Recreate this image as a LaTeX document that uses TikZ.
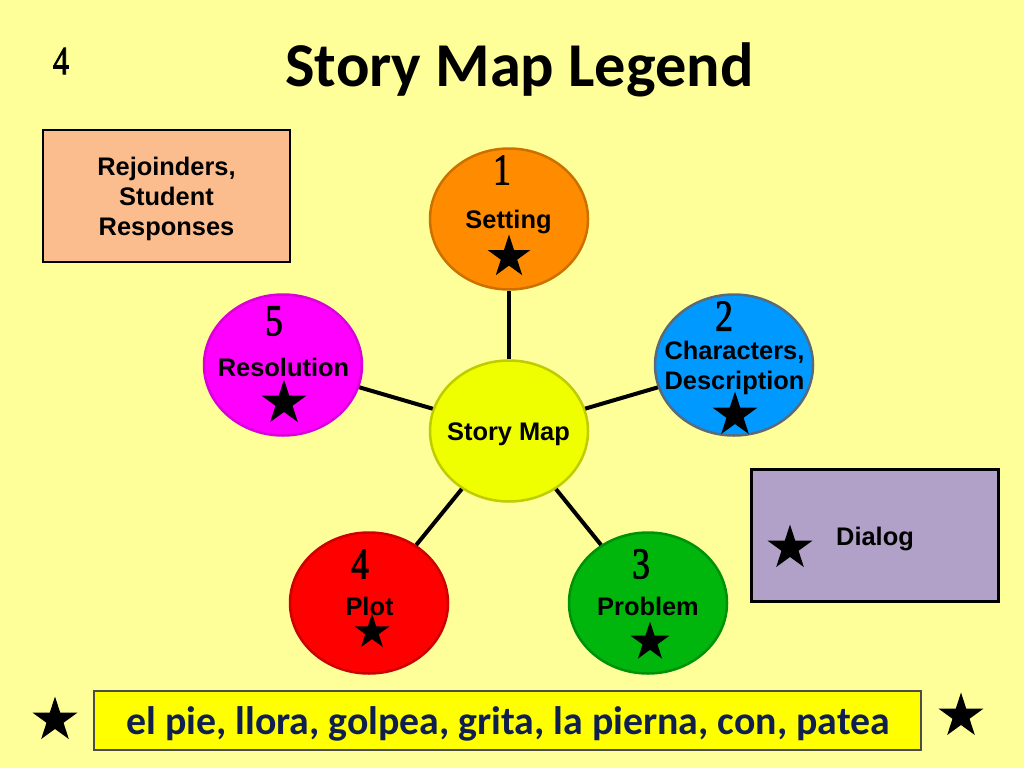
\documentclass[tikz,border=0pt]{standalone}
\usepackage{fontspec}
\usepackage{xcolor}
\usetikzlibrary{shapes.geometric}
\setmainfont{Liberation Sans}
\newfontfamily\titlefont{Carlito}
\newfontfamily\numfont[FakeStretch=0.8,FakeBold=2]{Liberation Serif}
\definecolor{pagecolor}{HTML}{FFFF99}
\definecolor{settingcolor}{HTML}{FF8C00}
\definecolor{characterscolor}{HTML}{0099FF}
\definecolor{charactersline}{HTML}{5A6A78}
\definecolor{problemcolor}{HTML}{00B50C}
\definecolor{plotcolor}{HTML}{FF0000}
\definecolor{resolutioncolor}{HTML}{FF00FF}
\definecolor{hubcolor}{HTML}{EFFF00}
\definecolor{rejoindercolor}{HTML}{FBBD8D}
\definecolor{dialogcolor}{HTML}{B1A0C7}
\definecolor{wordbar}{HTML}{FFFF00}
\definecolor{wordcolor}{HTML}{0F2050}
\tikzstyle{oval} = [
    ellipse,
    minimum width=158pt,
    minimum height=141pt,
    inner sep=0pt,
    line width=2.5pt
    ]
\tikzstyle{spoke} = [
    line width=4pt
    ]
\tikzstyle{ovaltext} = [
    font=\bfseries\fontsize{25.4}{30}\selectfont,
    align=center,
    inner sep=0pt
    ]
\tikzstyle{legendbox} = [
    draw=black,
    line width=2.6pt,
    rectangle,
    minimum width=247pt,
    minimum height=132pt,
    inner sep=0pt
    ]
\tikzstyle{starmark} = [
    star,
    star points=5,
    star point ratio=2.618,
    fill=black,
    inner sep=0pt
    ]
\tikzstyle{numtext} = [
    font=\numfont\fontsize{44}{44}\selectfont,
    inner sep=0pt
    ]

\begin{document}
\begin{tikzpicture}[x=1pt,y=-1pt]
\useasboundingbox (0,0) rectangle (1024,768);
\fill[pagecolor] (0,0) rectangle (1024,768);
\node[font=\titlefont\bfseries\fontsize{62.4}{62}\selectfont, inner sep=0pt] (title) at (519.5,70) {Story Map Legend};
\node[numtext, font=\numfont\fontsize{40}{40}\selectfont] (slidenum) at (61,61) {4};

% the hub and the five ovals
\node[oval, fill=hubcolor, draw=hubcolor!80!black] (hub) at (509,431) {};
\node[oval, fill=settingcolor, draw=settingcolor!80!black] (setting) at (509,219) {};
\node[oval, fill=characterscolor, draw=charactersline] (characters) at (734,365) {};
\node[oval, fill=problemcolor, draw=problemcolor!80!black] (problem) at (648,603) {};
\node[oval, fill=plotcolor, draw=plotcolor!80!black] (plot) at (369,603) {};
\node[oval, fill=resolutioncolor, draw=resolutioncolor!85!black] (resolution) at (283,365) {};

\draw[spoke] (hub) -- (setting);
\draw[spoke] (hub) -- (characters);
\draw[spoke] (hub) -- (problem);
\draw[spoke] (hub) -- (plot);
\draw[spoke] (hub) -- (resolution);

\node[ovaltext] (hubtext) at (508.5,434) {Story Map};
\node[ovaltext] (settingtext) at (508.5,222) {Setting};
\node[ovaltext] (characterstext) at (734.5,368) {Characters,\\Description};
\node[ovaltext] (problemtext) at (648,606) {Problem};
\node[ovaltext] (plottext) at (369.5,606) {Plot};
\node[ovaltext] (resolutiontext) at (283.5,367) {Resolution};

\node[numtext] (settingnum) at (502,170) {1};
\node[numtext] (charactersnum) at (724,316) {2};
\node[numtext] (problemnum) at (641,564) {3};
\node[numtext] (plotnum) at (360,564) {4};
\node[numtext] (resolutionnum) at (274,321) {5};

% legend boxes
\node[legendbox, fill=rejoindercolor] (rejoinders) at (166.5,196) {};
\node[ovaltext] (rejoinderstext) at (166.5,198.5) {Rejoinders,\\Student\\Responses};
\node[legendbox, fill=dialogcolor] (dialog) at (875,535.5) {};
\node[ovaltext] (dialogtext) at (875,539) {Dialog};

\node[rectangle, draw=black!70, line width=1.5pt, fill=wordbar, minimum width=827pt, minimum height=59pt, inner sep=0pt] (words) at (507.5,720.5) {};
\node[text=wordcolor, font=\titlefont\bfseries\fontsize{39.8}{40}\selectfont, inner sep=0pt] (wordstext) at (508,724) {el pie, llora, golpea, grita, la pierna, con, patea};

% stars
\node[starmark, minimum size=45pt] (settingstar) at (509,257) {};
\node[starmark, minimum size=47pt] (charactersstar) at (735,415) {};
\node[starmark, minimum size=41pt] (problemstar) at (650,642) {};
\node[starmark, minimum size=37pt] (plotstar) at (372,632) {};
\node[starmark, minimum size=47pt] (resolutionstar) at (284,403) {};
\node[starmark, minimum size=47pt] (dialogstar) at (790,548) {};
\node[starmark, minimum size=47pt] (leftstar) at (55,720) {};
\node[starmark, minimum size=47pt] (rightstar) at (961,716) {};
\end{tikzpicture}
\end{document}
